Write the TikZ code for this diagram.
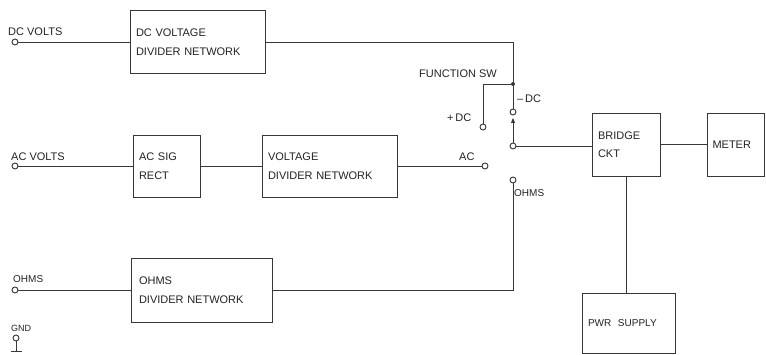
\documentclass[tikz,border=0pt]{standalone}
\usepackage{fontspec}
\setmainfont{Liberation Sans}
\usetikzlibrary{calc, positioning}
\usetikzlibrary{arrows.meta}

\begin{document}
\begin{tikzpicture}[x=1pt,y=-1pt,
  block/.style={draw=inkgray,line width=0.9pt,rectangle,align=left,
    inner xsep=6pt,inner ysep=0pt,text=inkdark,
    font=\fontsize{11}{18.5}\selectfont},
  term/.style={draw=inkgray,line width=0.9pt,circle,fill=white,
    inner sep=0pt,minimum size=6pt},
  dot/.style={circle,fill=inkgray,inner sep=0pt,minimum size=4pt},
  lbl/.style={anchor=base west,inner sep=0pt,text=inkdark,
    font=\fontsize{11}{13}\selectfont},
  wire/.style={draw=inkgray,line width=0.9pt}]
\definecolor{inkgray}{RGB}{55,55,55}
\definecolor{inkdark}{RGB}{35,35,35}
\useasboundingbox (0,0) rectangle (766,355);

% Input terminals on the left edge.
\node[term] (dcin) at (15,42) {};
\node[term] (acin) at (15,166) {};
\node[term] (ohmin) at (15,290) {};
\node[term] (gnd) at (16,338) {};
\coordinate (gndbar) at (16,351);
\node[lbl] (dcvlbl) at (8,36) {DC VOLTS};
\node[lbl] (acvlbl) at (11,161) {AC VOLTS};
\node[lbl,font=\fontsize{10}{12}\selectfont] (ohmlbl) at (13,283) {OHMS};
\node[lbl,font=\fontsize{9}{11}\selectfont] (gndlbl) at (11,332) {GND};

% Divider and rectifier blocks.
\node[block,text width=123pt,minimum height=63pt] (dcdiv) at (197.5,42)
  {DC VOLTAGE\\DIVIDER NETWORK};
\node[block,text width=55pt,minimum height=62pt] (acrect) at (166.5,166)
  {AC SIG\\RECT};
\node[block,text width=123pt,minimum height=62pt] (vdiv) at (329.5,166)
  {VOLTAGE\\DIVIDER NETWORK};
\node[block,text width=125pt,minimum height=64pt,inner xsep=8pt] (ohmdiv)
  at (201.5,290) {OHMS\\DIVIDER NETWORK};

% Function switch contacts.
\node[dot] (jn) at (513,84) {};
\node[term] (swpos) at (483,127) {};
\node[term] (swneg) at (513,112) {};
\node[term] (swcom) at (513,146) {};
\node[term] (swac) at (485,166) {};
\node[term] (swohm) at (513,180) {};
\coordinate (armtip) at (513,118);
\node[lbl] (fswlbl) at (419,78) {FUNCTION SW};
\node[lbl] (neglbl) at (517,103) {--\,DC};
\node[lbl] (poslbl) at (447,122) {+\,DC};
\node[lbl] (aclbl) at (459,161) {AC};
\node[lbl,font=\fontsize{10}{12}\selectfont] (ohmswlbl) at (514,197) {OHMS};

% Bridge, meter and supply.
\node[block,text width=56pt,minimum height=63pt] (bridge) at (626,144.5)
  {BRIDGE\\CKT};
\node[block,text width=47pt,minimum height=63pt,inner xsep=5pt] (meter)
  at (736,144.5) {METER};
\node[block,text width=81pt,minimum height=60pt,
  font=\fontsize{10}{12}\selectfont] (pwr) at (628.5,323.5) {PWR\ \ SUPPLY};

% Wiring.
\draw[wire] (dcin) -- (dcin -| dcdiv.west);
\draw[wire] (dcdiv.east) -| (jn);
\draw[wire] (jn) -| (swpos);
\draw[wire] (jn) -- (swneg);
\draw[wire,-{Triangle[length=5pt,width=4pt]}] (swcom) -- (armtip);
\draw[wire] (swcom) -- (swcom -| bridge.west);
\draw[wire] (acin) -- (acin -| acrect.west);
\draw[wire] (acrect) -- (vdiv);
\draw[wire] (vdiv) -- (swac);
\draw[wire] (ohmin) -- (ohmin -| ohmdiv.west);
\draw[wire] (swohm) |- (ohmdiv.east);
\draw[wire] (bridge) -- (meter);
\draw[wire] (bridge.south) -- (bridge.south |- pwr.north);
\draw[wire] (gnd) -- (gndbar);
\draw[wire] ($(gndbar)+(-5,0)$) -- ($(gndbar)+(6,0)$);
\end{tikzpicture}
\end{document}
